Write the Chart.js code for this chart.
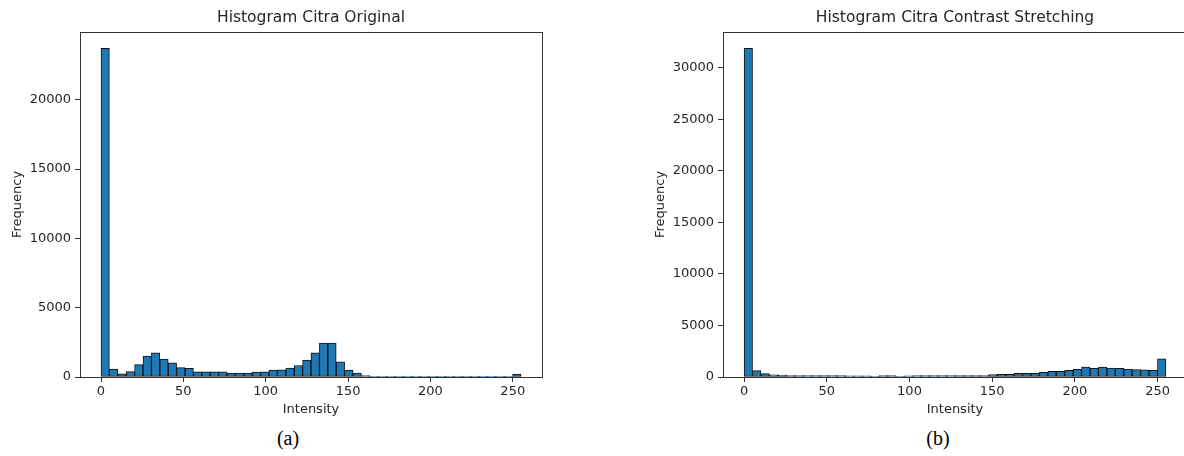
<!DOCTYPE html>
<html>
<head>
<meta charset="utf-8">
<script src="https://cdn.jsdelivr.net/npm/chart.js@4.4.1/dist/chart.umd.min.js"></script>
<style>
  body { margin: 0; background: #fff; }
  #page { position: relative; width: 1184px; height: 456px; overflow: hidden; background: #fff; }
  canvas { position: absolute; top: 0; }
  .cap { position: absolute; top: 428px; width: 60px; text-align: center; font-family: "Liberation Serif", serif; font-size: 20px; line-height: 20px; color: #000; }
</style>
</head>
<body>
<div id="page">
  <canvas id="histA" width="560" height="420" style="left:0px"></canvas>
  <canvas id="histB" width="560" height="420" style="left:643px"></canvas>
  <div class="cap" style="left:258px">(a)</div>
  <div class="cap" style="left:908px">(b)</div>
</div>
<script>
const binCount = 50;
const intensityMax = 255;
const xTicks = [0, 50, 100, 150, 200, 250];
const yTicksA = [0, 5000, 10000, 15000, 20000];
const yTicksB = [0, 5000, 10000, 15000, 20000, 25000, 30000];

// frequencies per bin
const freqOriginal = [
  23700, 570, 230, 390, 890, 1500, 1750, 1300, 1030, 680,
  620, 380, 380, 380, 370, 290, 290, 290, 350, 370,
  500, 510, 640, 830, 1220, 1750, 2450, 2450, 1100, 500,
  290, 110, 55, 40, 32, 28, 25, 22, 20, 20,
  18, 18, 20, 22, 20, 18, 25, 30, 40, 210
];
const freqStretched = [
  31900, 620, 330, 220, 190, 150, 140, 130, 130, 130,
  130, 130, 125, 125, 120, 40, 150, 150, 40, 120,
  130, 130, 130, 130, 130, 140, 140, 140, 150, 240,
  250, 260, 350, 355, 360, 455, 550, 560, 650, 745,
  970, 850, 970, 860, 840, 775, 710, 700, 650, 1760
];

const binWidth = intensityMax / binCount;
const binCenters = freqOriginal.map((_, i) => (i + 0.5) * binWidth);

const textColor = '#262626';
const lineColor = '#333';
const fontFamily = 'DejaVu Sans';

// box around the axes and a title centred over the plot, like matplotlib
const framePlugin = {
  id: 'frame',
  afterDraw(chart, args, opts) {
    const ctx = chart.ctx;
    const a = chart.chartArea;
    const l = Math.round(a.left - 0.5) + 0.5;
    const r = Math.round(a.right - 0.5) + 0.5;
    const t = Math.round(a.top - 0.5) + 0.5;
    const b = Math.round(a.bottom - 0.5) + 0.5;
    ctx.save();
    ctx.strokeStyle = lineColor;
    ctx.lineWidth = 1;
    ctx.strokeRect(l, t, r - l, b - t);
    ctx.fillStyle = textColor;
    ctx.font = '15.5px "DejaVu Sans"';
    ctx.textAlign = 'center';
    ctx.textBaseline = 'middle';
    ctx.fillText(opts.text, (a.left + a.right) / 2, 18);
    ctx.restore();
  }
};

function makeHist(id, values, yTicks, title, padRight) {
  const yMax = Math.max(...values) * 1.05;
  return new Chart(document.getElementById(id), {
    type: 'bar',
    data: {
      datasets: [{
        data: binCenters.map((x, i) => ({ x: x, y: values[i] })),
        backgroundColor: '#1f77b4',
        borderColor: '#111',
        borderWidth: 1,
        borderSkipped: false,
        barPercentage: 1,
        categoryPercentage: 1
      }]
    },
    options: {
      responsive: false,
      animation: false,
      layout: { padding: { top: 32, right: padRight, left: 0, bottom: 0 } },
      plugins: {
        legend: { display: false },
        tooltip: { enabled: false },
        frame: { text: title }
      },
      scales: {
        x: {
          type: 'linear',
          min: -0.05 * intensityMax,
          max: 1.05 * intensityMax,
          offset: false,
          afterBuildTicks: s => { s.ticks = xTicks.map(v => ({ value: v })); },
          afterFit: s => { s.height = 43; },
          grid: { display: true, offset: false, drawOnChartArea: false, drawTicks: true, tickLength: 5, color: lineColor },
          border: { display: true, color: lineColor, width: 1 },
          ticks: { color: textColor, font: { family: fontFamily, size: 13 }, padding: 2, maxRotation: 0, autoSkip: false, callback: v => String(v) },
          title: { display: true, text: 'Intensity', color: textColor, font: { family: fontFamily, size: 13 }, padding: { top: 0, bottom: 2.2 } }
        },
        y: {
          min: 0,
          max: yMax,
          afterBuildTicks: s => { s.ticks = yTicks.map(v => ({ value: v })); },
          afterFit: s => { s.width = 80; },
          grid: { display: true, drawOnChartArea: false, drawTicks: true, tickLength: 5, color: lineColor },
          border: { display: true, color: lineColor, width: 1 },
          ticks: { color: textColor, font: { family: fontFamily, size: 13 }, padding: 4, callback: v => String(v) },
          title: { display: true, text: 'Frequency', color: textColor, font: { family: fontFamily, size: 13 }, padding: { top: 9.7, bottom: 0 } }
        }
      }
    },
    plugins: [framePlugin]
  });
}

makeHist('histA', freqOriginal, yTicksA, 'Histogram Citra Original', 18);
makeHist('histB', freqStretched, yTicksB, 'Histogram Citra Contrast Stretching', 16);
</script>
</body>
</html>
